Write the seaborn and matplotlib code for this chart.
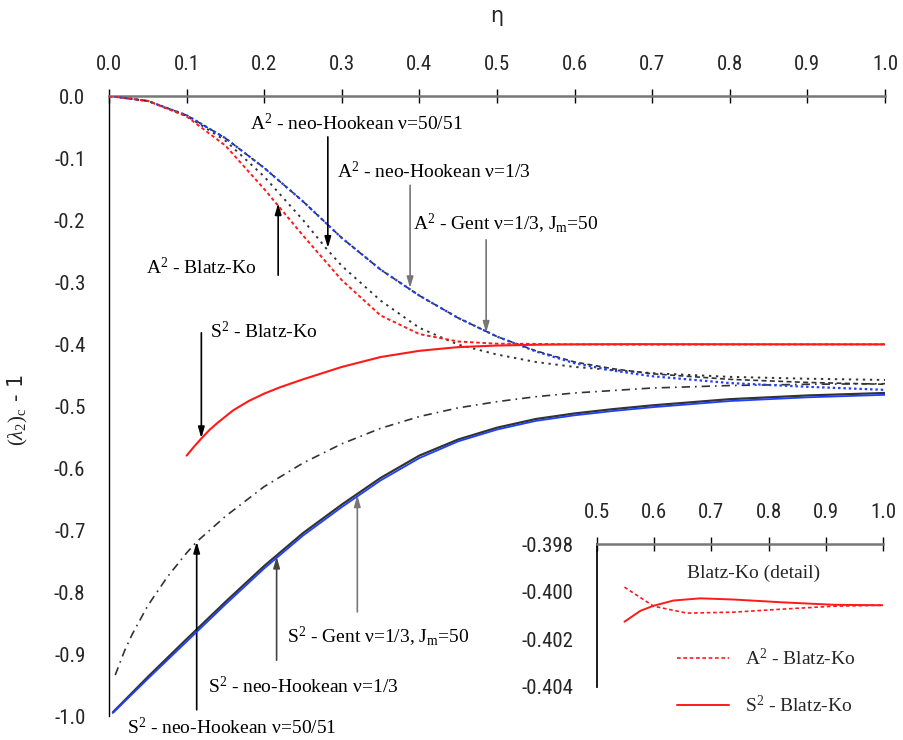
import numpy as np
import pandas as pd
import matplotlib
matplotlib.use("Agg")
import matplotlib.pyplot as plt
from matplotlib import font_manager
import seaborn as sns

# ---- data ----
# A^2 modes (dotted / dashed curves, starting at 0)
eta_a_nh13 = [0, 0.05, 0.1, 0.15, 0.2, 0.25, 0.3, 0.35, 0.4, 0.45, 0.5, 0.55, 0.6, 0.65, 0.7, 0.8, 0.9, 1.0]
a_nh13 = [0, -0.008, -0.031, -0.068, -0.116, -0.17, -0.229, -0.28, -0.322, -0.358, -0.388, -0.412, -0.431, -0.443, -0.452, -0.463, -0.469, -0.474]

eta_a_gent = [0, 0.05, 0.1, 0.15, 0.2, 0.25, 0.3, 0.35, 0.4, 0.45, 0.5, 0.55, 0.6, 0.65, 0.7, 0.8, 0.9, 1.0]
a_gent = [0, -0.008, -0.031, -0.068, -0.116, -0.17, -0.229, -0.28, -0.322, -0.358, -0.388, -0.411, -0.429, -0.440, -0.448, -0.457, -0.462, -0.465]

eta_a_nh5051 = [0, 0.05, 0.1, 0.15, 0.2, 0.25, 0.28, 0.3, 0.35, 0.4, 0.45, 0.5, 0.55, 0.6, 0.7, 0.8, 0.9, 1.0]
a_nh5051 = [0, -0.008, -0.032, -0.072, -0.13, -0.2, -0.246, -0.274, -0.33, -0.374, -0.401, -0.417, -0.429, -0.437, -0.447, -0.453, -0.456, -0.458]

eta_a_bk = [0, 0.05, 0.1, 0.15, 0.2, 0.25, 0.3, 0.35, 0.4, 0.45, 0.5, 0.548, 0.599, 0.657, 0.739, 0.826, 0.914, 1.0]
a_bk = [0, -0.008, -0.033, -0.08, -0.15, -0.225, -0.297, -0.354, -0.384, -0.396, -0.3995,
        -0.39981, -0.40061, -0.40090, -0.40086, -0.40073, -0.40061, -0.40057]

# S^2 modes (solid / dash-dot curves)
eta_s_bk = [0.1, 0.11, 0.12, 0.13, 0.14, 0.16, 0.18, 0.2, 0.22, 0.25, 0.3, 0.35, 0.4, 0.45, 0.5,
            0.548, 0.576, 0.599, 0.634, 0.681, 0.739, 0.826, 0.914, 1.0]
s_bk = [-0.58, -0.565, -0.551, -0.538, -0.527, -0.507, -0.492, -0.48, -0.47, -0.457, -0.437, -0.421,
        -0.411, -0.405, -0.4025, -0.40126, -0.4008, -0.40059, -0.40037, -0.40028, -0.40033,
        -0.40045, -0.40055, -0.40057]

eta_s_nh5051 = [0.008, 0.02, 0.03, 0.05, 0.075, 0.1, 0.113, 0.15, 0.2, 0.25, 0.3, 0.35, 0.4, 0.45, 0.5, 0.55, 0.6, 0.7, 0.8, 0.9, 1.0]
s_nh5051 = [-0.934, -0.895, -0.868, -0.822, -0.776, -0.737, -0.719, -0.678, -0.63, -0.592, -0.561, -0.536, -0.517,
            -0.503, -0.493, -0.485, -0.479, -0.471, -0.467, -0.465, -0.464]

eta_s_nh13 = [0.005, 0.05, 0.1, 0.15, 0.2, 0.25, 0.3, 0.35, 0.4, 0.45, 0.5, 0.55, 0.6, 0.65, 0.7, 0.8, 0.9, 1.0]
s_nh13 = [-0.995, -0.94, -0.88, -0.82, -0.762, -0.709, -0.663, -0.62, -0.584, -0.557, -0.538, -0.524,
          -0.515, -0.508, -0.502, -0.492, -0.486, -0.482]

eta_s_gent = [0.005, 0.05, 0.1, 0.15, 0.2, 0.25, 0.3, 0.35, 0.4, 0.45, 0.5, 0.55, 0.6, 0.65, 0.7, 0.8, 0.9, 1.0]
s_gent = [-0.994, -0.937, -0.876, -0.816, -0.758, -0.705, -0.659, -0.616, -0.580, -0.554, -0.535, -0.521,
          -0.512, -0.505, -0.499, -0.489, -0.483, -0.479]

x_ticks = [0.0, 0.1, 0.2, 0.3, 0.4, 0.5, 0.6, 0.7, 0.8, 0.9, 1.0]
x_labels = ["0.0", "0.1", "0.2", "0.3", "0.4", "0.5", "0.6", "0.7", "0.8", "0.9", "1.0"]
y_ticks = [0.0, -0.1, -0.2, -0.3, -0.4, -0.5, -0.6, -0.7, -0.8, -0.9, -1.0]
y_labels = ["0.0", "-0.1", "-0.2", "-0.3", "-0.4", "-0.5", "-0.6", "-0.7", "-0.8", "-0.9", "-1.0"]
inset_x_ticks = [0.5, 0.6, 0.7, 0.8, 0.9, 1.0]
inset_x_labels = ["0.5", "0.6", "0.7", "0.8", "0.9", "1.0"]
inset_y_ticks = [-0.398, -0.400, -0.402, -0.404]
inset_y_labels = ["-0.398", "-0.400", "-0.402", "-0.404"]

# ---- style ----
sns.set_theme(style="white")

# pick a narrow sans for the tick numbers if one is installed
installed = {f.name for f in font_manager.fontManager.ttflist}
narrow = "Liberation Sans"
for cand in ["Liberation Sans Narrow", "DejaVu Sans Condensed", "Roboto Condensed",
             "Open Sans Condensed"]:
    if cand in installed:
        narrow = cand
        break

plt.rcParams["font.family"] = [narrow, "DejaVu Sans"]
plt.rcParams["axes.unicode_minus"] = False
plt.rcParams["mathtext.fontset"] = "custom"
plt.rcParams["mathtext.rm"] = "Liberation Serif"
plt.rcParams["mathtext.it"] = "Liberation Serif:italic"
plt.rcParams["mathtext.bf"] = "Liberation Serif:bold"

serif = ["Liberation Serif", "DejaVu Serif"]
BLUE = "#1f3fff"
RED = "#ff1a1a"
DARK = "#333333"
GRAY = "#777777"

fig = plt.figure(figsize=(9.04, 7.4), dpi=100)
ax = fig.add_axes([109 / 904, 1 - 716 / 740, 776 / 904, 620 / 740])


def curve(a, x, y, color, ls, lw=1.3, label=None, z=2):
    sns.lineplot(x=x, y=y, ax=a, color=color, linestyle=ls, linewidth=lw,
                 label=label, errorbar=None, sort=False, zorder=z, legend=False)


# A^2 curves
curve(ax, eta_a_gent, a_gent, DARK, (0, (3, 2)), lw=1.2, z=2)
curve(ax, eta_a_nh5051, a_nh5051, DARK, (0, (1.2, 2.4)), lw=1.4, z=3)
curve(ax, eta_a_nh13, a_nh13, BLUE, (0, (1.1, 1.3)), lw=1.6, z=4)
curve(ax, eta_a_bk, a_bk, RED, (0, (1.8, 1.4)), lw=1.4, z=4)

# S^2 curves
curve(ax, eta_s_bk, s_bk, RED, "-", lw=1.5, z=4)
curve(ax, eta_s_nh5051, s_nh5051, DARK, (0, (5, 3, 1, 3)), lw=1.2, z=3)
curve(ax, eta_s_gent, s_gent, DARK, "-", lw=1.6, z=3)
curve(ax, eta_s_nh13, s_nh13, BLUE, "-", lw=1.3, z=4)

ax.set_xlim(0, 1)
ax.set_ylim(-1, 0)
ax.xaxis.tick_top()
ax.set_xticks(x_ticks)
ax.set_xticklabels(x_labels)
ax.set_yticks(y_ticks)
ax.set_yticklabels(y_labels)
ax.tick_params(axis="both", direction="inout", length=10, width=1, color="black",
               labelsize=15, pad=11)
ax.tick_params(axis="y", pad=12)
for s in ["right", "bottom"]:
    ax.spines[s].set_visible(False)
ax.spines["top"].set_color(GRAY)
ax.spines["top"].set_linewidth(1.8)
ax.spines["left"].set_color("black")
ax.spines["left"].set_linewidth(1.0)
ax.set_xlabel("")
ax.set_ylabel(r"$(\lambda_2)_\mathrm{c}$ - 1", fontsize=15, family=["DejaVu Sans"])
ax.yaxis.set_label_coords((30 - 109) / 776, (716 - 410) / 620)
ax.text(0.5, (716 - 16) / 620, "η", transform=ax.transAxes, fontsize=15,
        family=["DejaVu Sans"], ha="center", va="center")

# ---- annotations ----
texts = [
    (0.182, -0.045, r"A$^2$ - neo-Hookean ν=50/51"),
    (0.294, -0.121, r"A$^2$ - neo-Hookean ν=1/3"),
    (0.392, -0.206, r"A$^2$ - Gent ν=1/3, J$_\mathrm{m}$=50"),
    (0.048, -0.277, r"A$^2$ - Blatz-Ko"),
    (0.130, -0.380, r"S$^2$ - Blatz-Ko"),
    (0.229, -0.873, r"S$^2$ - Gent ν=1/3, J$_\mathrm{m}$=50"),
    (0.128, -0.952, r"S$^2$ - neo-Hookean ν=1/3"),
    (0.023, -1.018, r"S$^2$ - neo-Hookean ν=50/51"),
]
for tx, ty, t in texts:
    ax.text(tx, ty, t, fontsize=14, family=serif, ha="left", va="center",
            color="black", clip_on=False)

arrows = [
    (0.282, -0.066, 0.282, -0.245, "black"),
    (0.388, -0.144, 0.388, -0.310, GRAY),
    (0.486, -0.232, 0.486, -0.382, GRAY),
    (0.218, -0.289, 0.218, -0.173, "black"),
    (0.119, -0.382, 0.119, -0.552, "black"),
    (0.113, -0.990, 0.113, -0.719, "black"),
    (0.216, -0.910, 0.216, -0.743, "#444444"),
    (0.320, -0.832, 0.320, -0.644, GRAY),
]
for x0, y0, x1, y1, c in arrows:
    ax.annotate("", xy=(x1, y1), xytext=(x0, y0),
                arrowprops=dict(arrowstyle="-|>,head_length=0.55,head_width=0.16",
                                color=c, lw=1.2, shrinkA=0, shrinkB=0))

# ---- inset ----
ax2 = fig.add_axes([597 / 904, 1 - 687 / 740, 286 / 904, 143 / 740])
curve(ax2, eta_a_bk[11:], a_bk[11:], RED, (0, (2.2, 1.6)), lw=1.2, label=r"A$^2$ - Blatz-Ko")
curve(ax2, eta_s_bk[15:], s_bk[15:], RED, "-", lw=1.4, label=r"S$^2$ - Blatz-Ko")
ax2.set_xlim(0.5, 1.0)
ax2.set_ylim(-0.404, -0.398)
ax2.xaxis.tick_top()
ax2.set_xticks(inset_x_ticks)
ax2.set_xticklabels(inset_x_labels)
ax2.set_yticks(inset_y_ticks)
ax2.set_yticklabels(inset_y_labels)
ax2.tick_params(axis="both", direction="inout", length=10, width=1, color="black",
                labelsize=15, pad=11)
ax2.tick_params(axis="y", pad=12)
for s in ["right", "bottom"]:
    ax2.spines[s].set_visible(False)
ax2.spines["top"].set_color(GRAY)
ax2.spines["top"].set_linewidth(1.8)
ax2.spines["left"].set_color("black")
ax2.set_xlabel("")
ax2.set_ylabel("")
ax2.set_facecolor("none")
ax2.text(0.773, -0.39922, "Blatz-Ko (detail)", fontsize=14, family=serif,
         ha="center", va="center")
leg = ax2.legend(loc="upper left", bbox_to_anchor=(677 / 904, 1 - 648 / 740),
                 bbox_transform=fig.transFigure, frameon=False, borderpad=0,
                 borderaxespad=0, handlelength=2.7, handletextpad=0.8,
                 labelspacing=1.3, prop={"family": serif, "size": 14})

fig.savefig("out.png", dpi=100, facecolor="white")
